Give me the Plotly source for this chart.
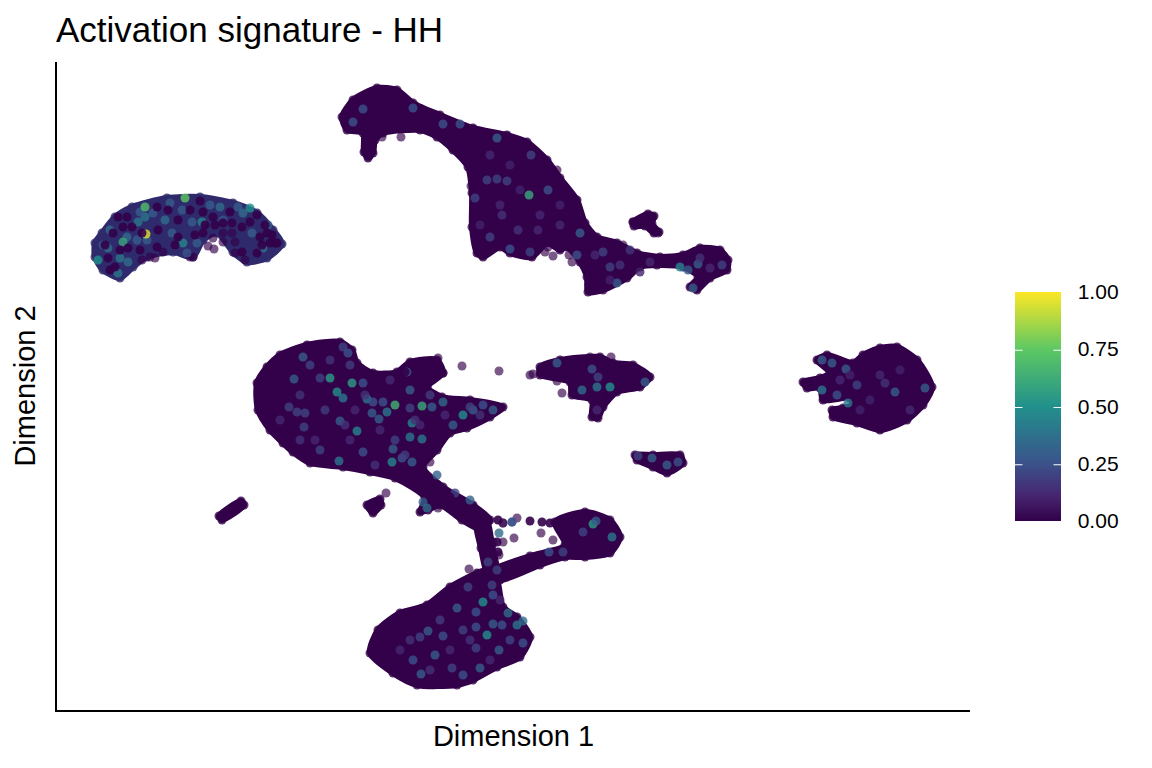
import plotly.graph_objects as go

# Dense cell clouds (arbitrary embedding units, no ticks on the axes)
top_x = [342,353,377,397,413,440,473,507,527,547,560,577,585,597,617,637,660,683,700,720,728,727,710,697,690,698,683,657,640,627,603,588,587,580,567,560,547,532,510,500,483,477,472,472,468,453,437,420,383,375,373,368,364,363,347]
top_y = [117,100,88,90,103,115,128,135,142,160,178,200,223,237,243,253,257,255,248,250,260,270,278,290,287,277,267,265,267,278,290,292,277,262,247,250,243,257,253,247,257,253,227,193,167,150,137,130,133,140,153,158,152,133,130]
spur_x = [633,648,654,652,659,654,645,634]
spur_y = [222,214,216,224,232,233,226,226]
centre_x = [257,267,280,307,340,352,357,373,397,410,437,443,427,442,470,503,490,467,450,437,423,443,473,490,482,462,440,428,420,425,395,370,343,310,293,283,270,258]
centre_y = [383,367,355,345,342,350,363,373,372,362,360,373,387,397,400,407,417,428,433,450,467,487,505,520,530,520,505,510,512,498,478,472,467,463,452,443,430,410]
stem_x = [476,486,492,497,488,481]
stem_y = [520,518,545,575,575,548]
arm_x = [490,530,565,555,585,610,620,610,585,565,540,500]
arm_y = [572,556,545,522,512,520,537,553,557,557,565,580]
low_x = [487,497,503,517,530,520,497,473,457,417,393,370,378,400,427,450,477]
low_y = [570,580,607,617,637,657,667,680,685,685,673,653,630,613,605,587,573]
mid_x = [540,560,600,613,633,650,640,617,603,598,592,592,572,570,540]
mid_y = [367,360,357,363,365,377,387,392,407,418,417,400,395,382,375]
small_x = [635,653,680,683,667,653,637]
small_y = [455,455,455,463,473,467,460]
right_x = [803,820,830,817,827,853,863,880,897,917,932,923,907,880,857,833,832,843,853,850,823,820,807]
right_y = [382,378,373,360,355,363,355,348,347,360,387,405,420,430,423,417,410,408,405,398,400,388,388]
sliver_x = [219,241,244,222]
sliver_y = [516,501,505,520]
blob_x = [367,380,381,373]
blob_y = [505,499,505,513]
crescent_x = [95,102,115,132,167,200,233,257,273,282,267,247,233,217,203,193,173,147,133,120,103,95]
crescent_y = [243,233,217,207,198,197,203,213,230,244,258,262,252,233,240,257,252,257,267,278,270,257]

# Individual cells with a visible score
cell_x = [138,110,120,98,128,118,108,103,145,140,153,165,172,182,170,183,187,197,220,210,238,250,243,268,252,263,223,192,202,147,137,127,185,145,123,146,
          413,363,353,443,460,497,531,487,497,507,548,475,502,490,518,538,510,530,577,580,680,698,722,688,693,610,603,617,529,
          294,289,297,305,304,303,320,343,348,330,352,337,343,363,367,373,383,372,387,379,395,422,357,340,412,410,422,393,392,412,402,339,363,453,463,473,493,483,443,432,410,407,410,437,455,470,512,423,427,
          557,592,598,610,597,582,645,597,638,652,667,678,822,832,846,895,925,848,822,837,885,857,
          483,457,468,476,493,476,487,428,420,443,463,435,413,421,463,480,499,517,523,508,523,476,493,492,452,502,
          593,612,596,563,549,512,499,488,497,583,
          280,300,315,325,345,355,310,330,350,365,380,395,415,430,445,300,320,350,375,405,420,470,480,390,
          520,500,480,540,560,490,510,560,620,650,640,700,710,610,595,630,
          400,410,440,450,470,490,510,430,500,
          870,880,900,910,860,840,850]
cell_y = [222,230,258,260,262,273,248,245,217,212,213,220,233,210,203,243,253,243,207,205,207,208,213,225,233,248,220,222,222,240,240,237,198,207,242,234,
          108,109,122,124,124,138,155,180,179,181,190,198,215,237,230,230,249,252,255,233,267,264,265,270,288,267,252,283,195,
          379,407,412,413,427,357,378,347,353,378,383,392,398,383,399,402,402,413,412,419,405,406,431,421,423,437,439,449,462,462,458,461,452,425,415,410,410,405,402,407,408,372,390,475,493,500,522,502,508,
          363,369,377,387,387,390,382,410,456,458,465,462,360,363,369,392,388,403,390,395,383,385,
          602,608,587,612,624,627,635,631,637,636,630,655,660,674,675,668,650,625,621,613,643,648,595,585,668,625,
          524,537,521,552,552,522,533,562,570,532,
          420,395,440,410,425,410,365,360,365,395,430,440,420,395,415,440,450,440,465,455,425,407,415,380,
          190,205,225,215,205,155,165,225,265,262,272,258,268,280,255,250,
          650,640,620,650,640,660,640,670,600,
          400,375,370,410,410,380,375]
cell_v = [.4,.35,.4,.5,.35,.4,.35,.3,.4,.3,.3,.35,.3,.3,.3,.45,.25,.3,.35,.3,.3,.5,.35,.3,.3,.35,.25,.3,.45,.3,.3,.35,.75,.7,.6,.95,
          .25,.25,.25,.25,.25,.3,.2,.2,.2,.2,.25,.2,.15,.2,.15,.12,.25,.2,.25,.3,.45,.3,.2,.3,.3,.2,.2,.3,.6,
          .3,.2,.2,.2,.2,.3,.2,.2,.25,.55,.55,.5,.4,.25,.4,.25,.25,.3,.4,.3,.65,.6,.45,.3,.45,.4,.4,.3,.45,.3,.25,.4,.25,.3,.5,.3,.3,.25,.35,.3,.2,.25,.3,.3,.2,.3,.25,.3,.35,
          .3,.25,.2,.5,.4,.35,.3,.12,.2,.3,.3,.25,.3,.3,.3,.3,.3,.4,.4,.25,.15,.2,
          .5,.3,.2,.25,.3,.25,.5,.3,.2,.25,.2,.3,.25,.3,.25,.3,.3,.4,.35,.35,.25,.2,.25,.2,.2,.25,
          .55,.4,.3,.2,.25,.25,.35,.2,.2,.2,
          .12,.15,.12,.18,.15,.12,.2,.15,.18,.15,.12,.2,.15,.18,.12,.15,.2,.12,.15,.18,.12,.2,.15,.12,
          .1,.12,.1,.12,.1,.12,.1,.12,.15,.12,.1,.15,.12,.1,.12,.15,
          .12,.15,.18,.12,.15,.12,.2,.15,.12,
          .1,.12,.1,.12,.1,.12,.1]

# Cells scoring zero that sit over the denser colour of the crescent, and loose arm cells
zero_x = [108,120,128,140,157,175,118,127,123,157,168,178,190,203,200,213,230,223,232,203,195,178,242,257,267,270,277,260,242,257,158,142,115,110,105,113,132,
          272,265,275,250,262,215,205,
          530,542,550,498,498,497,428,450,405,415]
zero_y = [258,250,248,250,247,245,217,217,227,207,210,220,210,212,201,217,212,223,223,233,235,237,227,215,233,243,243,237,252,253,230,233,267,270,245,233,227,
          235,225,243,222,245,225,225,
          521,522,523,520,552,542,487,497,372,368]

# Faint isolated cells around the clouds
pale_x = [142,150,155,163,190,193,208,214,213,223,235,235,245,232,223,
          382,401,369,471,545,553,548,572,569,516,557,658,633,623,
          462,499,438,427,443,386,438,530,517,503,430,
          533,557,562,590,611,607,
          469,514,553,541,503,499,503,493]
pale_y = [260,257,258,252,257,257,246,249,238,233,242,253,260,233,242,
          137,137,156,186,252,256,247,262,255,243,170,233,222,245,
          366,371,358,387,373,493,508,375,518,523,462,
          374,381,393,357,357,398,
          569,538,540,533,523,555,542,542]

tick_vals = [0, 0.25, 0.5, 0.75, 1]
inner_ticks = [0.25, 0.5, 0.75]
colors = [[0, "#33004a"], [0.11, "#46256f"], [0.25, "#3b528b"], [0.5, "#21908c"], [0.75, "#5dc863"], [1, "#fde725"]]
DARK = "#33004a"


def join(*parts):
    out = []
    for p in parts:
        out += p + [p[0], None]
    return out


def cloud(x, y, color):
    return go.Scatter(x=x, y=y, mode="lines", fill="toself", fillcolor=color,
                      line=dict(color=color, width=6, shape="spline", smoothing=0.7),
                      hoverinfo="skip", showlegend=False)


fig = go.Figure()
fig.add_trace(cloud(crescent_x + [crescent_x[0]], crescent_y + [crescent_y[0]], "#2e2a6c"))
fig.add_trace(go.Scatter(x=crescent_x, y=crescent_y, mode="markers", showlegend=False,
                         marker=dict(size=9, color="#2e2a6c", opacity=0.8)))
parts_x = (top_x, spur_x, centre_x, stem_x, arm_x, low_x, mid_x, small_x, right_x, sliver_x, blob_x)
parts_y = (top_y, spur_y, centre_y, stem_y, arm_y, low_y, mid_y, small_y, right_y, sliver_y, blob_y)
fig.add_trace(cloud(join(*parts_x), join(*parts_y), DARK))
fig.add_trace(go.Scatter(x=sum(parts_x, []), y=sum(parts_y, []), mode="markers", showlegend=False,
                         marker=dict(size=9, color=DARK, opacity=0.8)))
fig.add_trace(go.Scatter(x=pale_x, y=pale_y, mode="markers", showlegend=False,
                         marker=dict(size=9, color=DARK, opacity=0.65)))
fig.add_trace(go.Scatter(x=cell_x, y=cell_y, mode="markers", showlegend=False,
                         marker=dict(size=9, color=cell_v, cmin=0, cmax=1, colorscale=colors, opacity=0.8,
                                     colorbar=dict(xref="container", yref="container", x=1007 / 1136, y=157 / 752,
                                                   xanchor="left", yanchor="bottom", thickness=46, thicknessmode="pixels",
                                                   len=229, lenmode="pixels", xpad=0, ypad=0, outlinewidth=0,
                                                   tickvals=tick_vals, tickformat=".2f", ticks="outside", ticklen=13,
                                                   tickcolor="rgba(0,0,0,0)",
                                                   tickfont=dict(family="Liberation Sans", size=21, color="black")))))
fig.add_trace(go.Scatter(x=zero_x, y=zero_y, mode="markers", showlegend=False,
                         marker=dict(size=9, color=DARK, opacity=0.9)))

# White tick marks on both sides of the colour bar
notes = []
for t in inner_ticks:
    y_paper = (710 - (522 - 229 * t)) / 648
    for edge, tail in ((1015, 9), (1061, -9)):
        notes.append(dict(xref="paper", yref="paper", x=(edge - 57) / 913, y=y_paper, text="",
                          showarrow=True, arrowhead=0, arrowwidth=1, arrowcolor="white",
                          ax=tail, ay=0, axref="pixel", ayref="pixel", standoff=0, startstandoff=0))

fig.update_layout(
    width=1136, height=752, paper_bgcolor="white", plot_bgcolor="white",
    margin=dict(l=49, r=174, t=54, b=50),
    annotations=notes,
    title=dict(text="Activation signature - HH", x=48 / 1136, xanchor="left", y=1 - 22 / 752, yanchor="middle",
               font=dict(family="Liberation Sans", size=35, color="black")),
    font=dict(family="Liberation Sans", color="black"),
    xaxis=dict(range=[57, 970], showgrid=False, zeroline=False, showticklabels=False, ticks="",
               showline=True, linecolor="black", linewidth=2,
               title=dict(text="Dimension 1", font=dict(size=29), standoff=15)),
    yaxis=dict(range=[710, 62], showgrid=False, zeroline=False, showticklabels=False, ticks="",
               showline=True, linecolor="black", linewidth=2,
               title=dict(text="Dimension 2", font=dict(size=29), standoff=11)),
)
fig.write_html("out.html")
